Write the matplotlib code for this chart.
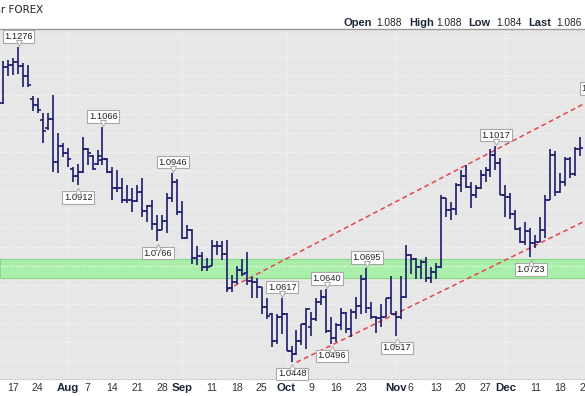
import numpy as np
import matplotlib
matplotlib.use("Agg")
import matplotlib.pyplot as plt
from matplotlib.collections import LineCollection
import matplotlib.transforms as mtransforms

# ---------------- data (EUR/USD daily) ----------------
dates = ["2023-07-13","2023-07-14","2023-07-17","2023-07-18","2023-07-19","2023-07-20","2023-07-21",
         "2023-07-24","2023-07-25","2023-07-26","2023-07-27","2023-07-28","2023-07-31","2023-08-01",
         "2023-08-02","2023-08-03","2023-08-04","2023-08-07","2023-08-08","2023-08-09","2023-08-10",
         "2023-08-11","2023-08-14","2023-08-15","2023-08-16","2023-08-17","2023-08-18","2023-08-21",
         "2023-08-22","2023-08-23","2023-08-24","2023-08-25","2023-08-28","2023-08-29","2023-08-30",
         "2023-08-31","2023-09-01","2023-09-04","2023-09-05","2023-09-06","2023-09-07","2023-09-08",
         "2023-09-11","2023-09-12","2023-09-13","2023-09-14","2023-09-15","2023-09-18","2023-09-19",
         "2023-09-20","2023-09-21","2023-09-22","2023-09-25","2023-09-26","2023-09-27","2023-09-28",
         "2023-09-29","2023-10-02","2023-10-03","2023-10-04","2023-10-05","2023-10-06","2023-10-09",
         "2023-10-10","2023-10-11","2023-10-12","2023-10-13","2023-10-16","2023-10-17","2023-10-18",
         "2023-10-19","2023-10-20","2023-10-23","2023-10-24","2023-10-25","2023-10-26","2023-10-27",
         "2023-10-30","2023-10-31","2023-11-01","2023-11-02","2023-11-03","2023-11-06","2023-11-07",
         "2023-11-08","2023-11-09","2023-11-10","2023-11-13","2023-11-14","2023-11-15","2023-11-16",
         "2023-11-17","2023-11-20","2023-11-21","2023-11-22","2023-11-23","2023-11-24","2023-11-27",
         "2023-11-28","2023-11-29","2023-11-30","2023-12-01","2023-12-04","2023-12-05","2023-12-06",
         "2023-12-07","2023-12-08","2023-12-11","2023-12-12","2023-12-13","2023-12-14","2023-12-15",
         "2023-12-18","2023-12-19","2023-12-20","2023-12-21","2023-12-22"]

opens = [1.1130,1.1223,1.1228,1.1236,1.1227,1.1200,1.1140,
         1.1124,1.1085,1.1062,1.1086,1.0975,1.1016,1.0997,
         1.0956,1.0937,1.0947,1.1007,1.0990,1.0968,1.0980,
         1.0982,1.0948,1.0905,1.0906,1.0874,1.0873,1.0872,
         1.0895,1.0846,1.0858,1.0811,1.0796,1.0818,1.0878,
         1.0922,1.0843,1.0775,1.0794,1.0722,1.0727,1.0697,
         1.0700,1.0752,1.0752,1.0731,1.0642,1.0657,1.0690,
         1.0681,1.0662,1.0659,1.0645,1.0592,1.0573,1.0503,
         1.0566,1.0573,1.0477,1.0470,1.0503,1.0548,1.0540,
         1.0562,1.0606,1.0619,1.0529,1.0510,1.0545,1.0576,
         1.0536,1.0580,1.0594,1.0666,1.0590,1.0566,1.0564,
         1.0565,1.0615,1.0575,1.0567,1.0620,1.0729,1.0719,
         1.0698,1.0710,1.0668,1.0684,1.0698,1.0879,1.0848,
         1.0850,1.0912,1.0937,1.0909,1.0886,1.0906,1.0940,
         1.0953,1.0993,1.0970,1.0888,1.0883,1.0837,1.0797,
         1.0764,1.0792,1.0762,1.0763,1.0794,1.0875,1.0991,
         1.0895,1.0921,1.0981,1.0942,1.1008]

highs = [1.1240,1.1243,1.1247,1.1276,1.1234,1.1228,1.1148,
         1.1143,1.1102,1.1103,1.1150,1.1050,1.1024,1.1011,
         1.0960,1.0968,1.1040,1.1011,1.0992,1.1005,1.1066,
         1.0984,1.0961,1.0953,1.0932,1.0913,1.0905,1.0913,
         1.0932,1.0862,1.0874,1.0835,1.0835,1.0892,1.0946,
         1.0930,1.0870,1.0807,1.0797,1.0753,1.0738,1.0722,
         1.0769,1.0767,1.0765,1.0769,1.0678,1.0700,1.0718,
         1.0737,1.0672,1.0669,1.0646,1.0617,1.0577,1.0573,
         1.0617,1.0577,1.0490,1.0531,1.0548,1.0589,1.0579,
         1.0617,1.0637,1.0640,1.0566,1.0551,1.0590,1.0580,
         1.0588,1.0620,1.0677,1.0695,1.0606,1.0570,1.0601,
         1.0617,1.0675,1.0581,1.0673,1.0756,1.0733,1.0722,
         1.0716,1.0724,1.0697,1.0708,1.0887,1.0880,1.0868,
         1.0919,1.0953,1.0966,1.0921,1.0912,1.0953,1.0961,
         1.1009,1.1017,1.0984,1.0913,1.0892,1.0848,1.0803,
         1.0816,1.0800,1.0782,1.0829,1.0887,1.1009,1.1003,
         1.0945,1.0988,1.0988,1.1014,1.1040]

lows = [1.1125,1.1200,1.1203,1.1205,1.1172,1.1170,1.1108,
        1.1103,1.1024,1.1057,1.0947,1.0945,1.0987,1.0961,
        1.0920,1.0912,1.0945,1.0966,1.0953,1.0966,1.0966,
        1.0945,1.0874,1.0895,1.0866,1.0866,1.0842,1.0869,
        1.0829,1.0815,1.0795,1.0766,1.0795,1.0787,1.0868,
        1.0834,1.0771,1.0771,1.0705,1.0703,1.0686,1.0686,
        1.0700,1.0730,1.0717,1.0632,1.0632,1.0652,1.0675,
        1.0650,1.0617,1.0615,1.0574,1.0560,1.0488,1.0496,
        1.0521,1.0477,1.0448,1.0466,1.0493,1.0483,1.0516,
        1.0555,1.0598,1.0525,1.0496,1.0500,1.0532,1.0524,
        1.0514,1.0560,1.0575,1.0576,1.0562,1.0524,1.0540,
        1.0565,1.0575,1.0517,1.0560,1.0617,1.0680,1.0665,
        1.0667,1.0659,1.0656,1.0667,1.0695,1.0829,1.0821,
        1.0834,1.0895,1.0905,1.0852,1.0880,1.0902,1.0921,
        1.0935,1.0953,1.0888,1.0829,1.0823,1.0795,1.0762,
        1.0756,1.0723,1.0748,1.0763,1.0773,1.0875,1.0884,
        1.0893,1.0911,1.0932,1.0937,1.0989]

closes = [1.1223,1.1228,1.1236,1.1227,1.1200,1.1175,1.1124,
          1.1110,1.1055,1.1086,1.0975,1.1016,1.0997,1.0982,
          1.0937,1.0947,1.1007,1.0998,1.0956,1.0990,1.0982,
          1.0948,1.0905,1.0906,1.0874,1.0873,1.0872,1.0895,
          1.0846,1.0858,1.0811,1.0795,1.0818,1.0878,1.0922,
          1.0843,1.0775,1.0796,1.0722,1.0727,1.0697,1.0699,
          1.0752,1.0752,1.0732,1.0643,1.0657,1.0690,1.0680,
          1.0661,1.0659,1.0644,1.0592,1.0570,1.0503,1.0566,
          1.0573,1.0477,1.0470,1.0503,1.0548,1.0587,1.0562,
          1.0606,1.0619,1.0529,1.0510,1.0545,1.0576,1.0536,
          1.0580,1.0594,1.0666,1.0590,1.0566,1.0564,1.0565,
          1.0615,1.0575,1.0567,1.0620,1.0729,1.0719,1.0698,
          1.0710,1.0668,1.0684,1.0698,1.0879,1.0848,1.0850,
          1.0912,1.0937,1.0909,1.0886,1.0906,1.0940,1.0953,
          1.0993,1.0970,1.0888,1.0883,1.0837,1.0797,1.0764,
          1.0792,1.0762,1.0763,1.0794,1.0875,1.0991,1.0895,
          1.0921,1.0981,1.0942,1.1008,1.1011]

# annotated highs / lows
hi_label_dates = ["2023-07-18","2023-08-10","2023-08-30","2023-09-29","2023-10-12","2023-10-24","2023-11-29","2023-12-27"]
hi_label_vals = [1.1276, 1.1066, 1.0946, 1.0617, 1.0640, 1.0695, 1.1017, 1.1139]
lo_label_dates = ["2023-08-03","2023-08-25","2023-10-03","2023-10-13","2023-11-01","2023-12-08"]
lo_label_vals = [1.0912, 1.0766, 1.0448, 1.0496, 1.0517, 1.0723]

# trend channel (dashed red)
upper_line_dates = ["2023-09-14", "2023-12-26"]
upper_line_vals = [1.0638, 1.1135]
lower_line_dates = ["2023-10-04", "2023-12-26"]
lower_line_vals = [1.0447, 1.0825]

# support zone (green band)
zone_low, zone_high = 1.0669, 1.0719

# x-axis labels
tick_dates = ["2023-07-17","2023-07-24","2023-08-01","2023-08-07","2023-08-14","2023-08-21","2023-08-28",
              "2023-09-01","2023-09-11","2023-09-18","2023-09-25","2023-10-02","2023-10-09","2023-10-16",
              "2023-10-23","2023-11-01","2023-11-06","2023-11-13","2023-11-20","2023-11-27","2023-12-01",
              "2023-12-11","2023-12-18","2023-12-25"]
tick_labels = ["17","24","Aug","7","14","21","28","Sep","11","18","25","Oct","9","16","23","Nov","6",
               "13","20","27","Dec","11","18","25"]
month_dates = ["2023-08-01","2023-09-01","2023-10-02","2023-11-01","2023-12-01"]

header_left = "Euro/US Dollar FOREX"
quote_names = ["Open", "High", "Low", "Last"]
quote_vals = ["1.088", "1.088", "1.084", "1.086"]

# ---------------- helpers ----------------
REF = np.datetime64("2023-10-02")
def tidx(ds):
    return np.busday_count(REF, np.array(ds, dtype="datetime64[D]"))

W, H = 585, 396
def fx(px):
    return px / W
def fy(py):
    return 1 - py / H

plt.rcParams["font.family"] = ["Liberation Sans", "DejaVu Sans"]
fig = plt.figure(figsize=(W / 100, H / 100), dpi=100)
fig.patch.set_facecolor("white")

ax_top, ax_bot = 28.5, 379
ax = fig.add_axes([0, fy(ax_bot), 1, (ax_bot - ax_top) / H])
ax.set_facecolor("#E7E7E7")
ax.set_xlim(-57.6, 59.4)
ax.set_ylim(1.0448 - (ax_bot - 362) / 3804, 1.0448 + (362 - ax_top) / 3804)

# grid
ax.set_yticks(np.arange(1.045, 1.1301, 0.005))
ax.tick_params(axis="y", left=False, right=False, labelleft=False)
ax.grid(axis="y", color="#F7F7F7", linestyle=(0, (1, 1.5)), linewidth=0.9)
for md in tidx(month_dates):
    ax.axvline(md, color="#F7F7F7", linestyle=(0, (1, 1.5)), linewidth=0.9, zorder=0.5)

for s in ["left", "right"]:
    ax.spines[s].set_visible(False)
ax.spines["top"].set_color("#9A9A9A")
ax.spines["top"].set_linewidth(1.0)
ax.spines["bottom"].set_color("#C8C8C8")
ax.spines["bottom"].set_linestyle((0, (1, 1.5)))
ax.spines["bottom"].set_linewidth(0.8)

# green zone
ax.axhspan(zone_low, zone_high, facecolor="#A9EFA9", edgecolor="#86D886", linewidth=0.8, zorder=1)

# OHLC bars
xi = tidx(dates)
o = np.array(opens); h = np.array(highs); l = np.array(lows); c = np.array(closes)
tw = 0.62
segs = []
for k in range(len(xi)):
    segs.append([(xi[k], l[k]), (xi[k], h[k])])
    segs.append([(xi[k] - tw, o[k]), (xi[k], o[k])])
    segs.append([(xi[k], c[k]), (xi[k] + tw, c[k])])
ax.add_collection(LineCollection(segs, colors="#1B1B6B", linewidths=1.2, zorder=3))

# trend lines
ax.plot(tidx(upper_line_dates), upper_line_vals, color="#E2474B", linestyle=(0, (3.2, 2.2)), linewidth=1.1, zorder=2.5)
ax.plot(tidx(lower_line_dates), lower_line_vals, color="#E2474B", linestyle=(0, (3.2, 2.2)), linewidth=1.1, zorder=2.5)

# value labels
box = dict(boxstyle="square,pad=0.18", fc="white", ec="#A8A8A8", lw=0.8)
def label(d, v, up):
    xx = tidx([d])[0]
    off = 10.5 if up else -12
    ax.annotate(f"{v:.4f}", xy=(xx, v), xytext=(0.6, off), textcoords="offset pixels",
                ha="center", va="center", fontsize=6.7, color="#222222", bbox=box,
                zorder=5, annotation_clip=False)
    tr = mtransforms.offset_copy(ax.transData, fig=fig, x=0.6, y=(4 if up else -5.5), units="dots")
    ax.plot([xx], [v], transform=tr, marker="v" if up else "^", markersize=4.2,
            mfc="white", mec="#A8A8A8", mew=0.7, zorder=6, clip_on=False)

for d, v in zip(hi_label_dates, hi_label_vals):
    label(d, v, True)
for d, v in zip(lo_label_dates, lo_label_vals):
    label(d, v, False)

# x tick labels
ax.set_xticks(tidx(tick_dates))
ax.set_xticklabels(tick_labels)
ax.tick_params(axis="x", length=0, pad=3.2, labelsize=7.6, colors="#333333")
for t in ax.get_xticklabels():
    if t.get_text().isalpha():
        t.set_fontweight("bold")
        t.set_color("#1C2838")
        t.set_fontsize(8.2)
    t.set_clip_on(False)

# header
fig.text(fx(43), fy(10), header_left, ha="right", va="center", fontsize=7.4,
         color="#222222", family="DejaVu Sans")
name_x = [344, 409, 468, 528]
val_x = [376, 436, 496, 556]
for nx, vx, n, v in zip(name_x, val_x, quote_names, quote_vals):
    fig.text(fx(nx), fy(22.5), n, ha="left", va="center", fontsize=8.0, fontweight="bold",
             color="#1C2838")
    fig.text(fx(vx), fy(22.5), v, ha="left", va="center", fontsize=7.3,
             color="#222222")

fig.savefig("out.png", dpi=100, facecolor="white")
